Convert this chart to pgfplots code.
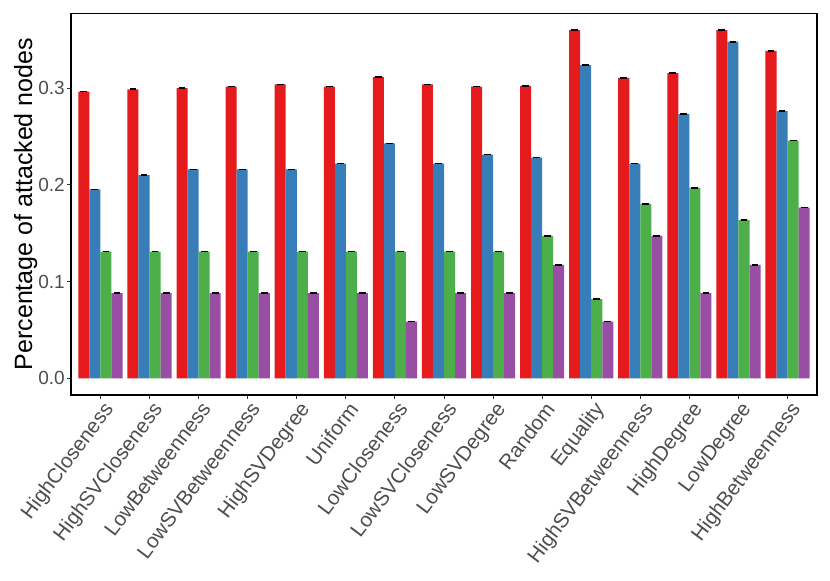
\documentclass[border=0pt]{standalone}
\usepackage{pgfplots}
\pgfplotsset{compat=1.18}
\usepackage{pgfplotstable}
\usepackage{fontspec}
\setmainfont{Liberation Sans}
\definecolor{cRed}{HTML}{E41A1C}
\definecolor{cBlue}{HTML}{377EB8}
\definecolor{cGreen}{HTML}{4DAF4A}
\definecolor{cPurple}{HTML}{984EA3}
\definecolor{tickgray}{HTML}{4D4D4D}
\definecolor{tickline}{HTML}{333333}
\pgfplotstableread{
x red blue green purple
0 0.2965 0.1955 0.131 0.088
1 0.2990 0.2103 0.131 0.088
2 0.3003 0.2162 0.131 0.088
3 0.3017 0.2162 0.131 0.088
4 0.3040 0.2162 0.131 0.088
5 0.3017 0.2220 0.131 0.088
6 0.3117 0.2431 0.131 0.0586
7 0.3040 0.2220 0.131 0.088
8 0.3017 0.2314 0.131 0.088
9 0.3024 0.2283 0.1472 0.1172
10 0.3603 0.3241 0.0820 0.0586
11 0.3107 0.2220 0.1803 0.1472
12 0.3158 0.2734 0.1969 0.088
13 0.3603 0.3482 0.1638 0.1172
14 0.3386 0.2765 0.2458 0.1765
}\datatable
\pgfplotsset{
  myerr/.style={
    error bars/x dir=both, error bars/x fixed=0.07,
    error bars/error mark=none,
    error bars/error bar style={line width=1.6pt, black},
  }
}
\begin{document}
\begin{tikzpicture}
\useasboundingbox (0,0) rectangle (830pt,581pt);
\begin{axis}[
  at={(71pt,186pt)}, anchor=south west,
  scale only axis, width=746pt, height=381.7pt,
  xmin=-0.6, xmax=14.6, ymin=-0.0173, ymax=0.3776,
  ybar=0pt, bar width=11.04pt,
  xtick={0,...,14},
  xticklabels={HighCloseness,HighSVCloseness,LowBetweenness,LowSVBetweenness,HighSVDegree,Uniform,LowCloseness,LowSVCloseness,LowSVDegree,Random,Equality,HighSVBetweenness,HighDegree,LowDegree,HighBetweenness},
  ytick={0,0.1,0.2,0.3},
  /pgf/number format/assume math mode=true,
  yticklabel style={inner sep=2pt, /pgf/number format/fixed, /pgf/number format/fixed zerofill, /pgf/number format/precision=1},
  tick pos=left, tick align=outside, major tick length=4pt,
  tick style={line width=1pt, color=tickline},
  axis line style={line width=1.1pt, black},
  ticklabel style={font=\fontsize{19}{22}\selectfont, text=tickgray},
  xticklabel style={rotate=53, anchor=north east, inner sep=1pt, font=\fontsize{20.6}{23}\selectfont, xshift=1pt, yshift=-1pt},
  ylabel={Percentage of attacked nodes},
  ylabel style={at={(axis description cs:-0.05228,0.5)}, anchor=base, font=\fontsize{25}{30}\selectfont},
]
\addplot[fill=cRed, draw=none, myerr] table[x=x, y=red] {\datatable};
\addplot[fill=cBlue, draw=none, myerr] table[x=x, y=blue] {\datatable};
\addplot[fill=cGreen, draw=none, myerr] table[x=x, y=green] {\datatable};
\addplot[fill=cPurple, draw=none, myerr] table[x=x, y=purple] {\datatable};
\end{axis}
\end{tikzpicture}
\end{document}
